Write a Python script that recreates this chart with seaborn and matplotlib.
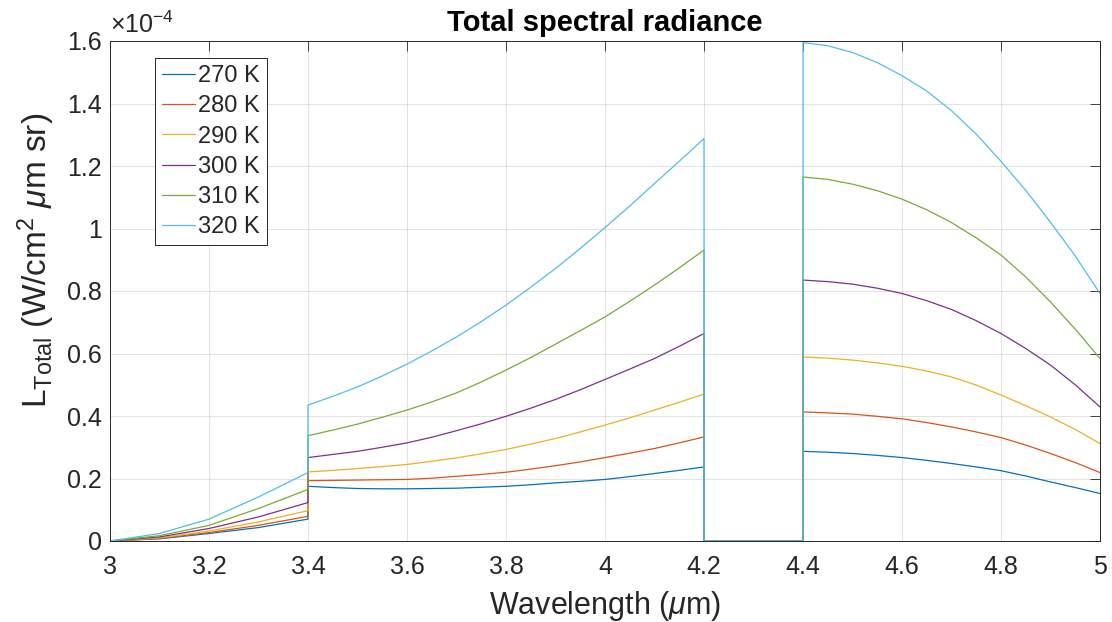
import numpy as np
import pandas as pd
import matplotlib
matplotlib.use("Agg")
import matplotlib.pyplot as plt
from matplotlib.ticker import FormatStrFormatter
import seaborn as sns

# ---------------- data (radiance in units of 1e-4 W/cm^2 um sr) ----------------
temperatures = ["270 K", "280 K", "290 K", "300 K", "310 K", "320 K"]

wavelength = [3.0, 3.1, 3.2, 3.3, 3.4,
              3.4, 3.45, 3.5, 3.55, 3.6, 3.65, 3.7, 3.75, 3.8, 3.85, 3.9,
              3.95, 4.0, 4.05, 4.1, 4.15, 4.2,
              4.2, 4.4,
              4.4, 4.45, 4.5, 4.55, 4.6, 4.65, 4.7, 4.75, 4.8, 4.85, 4.9,
              4.95, 5.0]

L_270 = [0, 0.007, 0.024, 0.043, 0.070,
         0.175, 0.171, 0.168, 0.167, 0.167, 0.168, 0.169, 0.172, 0.175,
         0.180, 0.186, 0.191, 0.197, 0.206, 0.216, 0.226, 0.237,
         0, 0,
         0.287, 0.284, 0.280, 0.274, 0.267, 0.258, 0.248, 0.237, 0.225,
         0.208, 0.189, 0.171, 0.152]
L_280 = [0, 0.008, 0.027, 0.050, 0.079,
         0.193, 0.194, 0.195, 0.196, 0.197, 0.201, 0.207, 0.213, 0.220,
         0.230, 0.241, 0.253, 0.267, 0.281, 0.296, 0.314, 0.333,
         0, 0,
         0.413, 0.410, 0.406, 0.399, 0.391, 0.379, 0.365, 0.349, 0.331,
         0.307, 0.280, 0.251, 0.219]
L_290 = [0, 0.010, 0.032, 0.061, 0.097,
         0.221, 0.226, 0.232, 0.238, 0.245, 0.255, 0.266, 0.279, 0.293,
         0.310, 0.328, 0.349, 0.371, 0.394, 0.419, 0.444, 0.470,
         0, 0,
         0.589, 0.585, 0.579, 0.570, 0.559, 0.544, 0.525, 0.499, 0.467,
         0.433, 0.397, 0.357, 0.312]
L_300 = [0, 0.013, 0.040, 0.077, 0.123,
         0.267, 0.277, 0.287, 0.300, 0.314, 0.332, 0.353, 0.375, 0.399,
         0.425, 0.453, 0.484, 0.517, 0.550, 0.584, 0.623, 0.664,
         0, 0,
         0.835, 0.830, 0.822, 0.809, 0.792, 0.769, 0.741, 0.705, 0.664,
         0.616, 0.563, 0.500, 0.429]
L_310 = [0, 0.017, 0.050, 0.104, 0.165,
         0.337, 0.355, 0.374, 0.396, 0.419, 0.445, 0.474, 0.509, 0.547,
         0.587, 0.630, 0.673, 0.717, 0.767, 0.819, 0.874, 0.931,
         0, 0,
         1.165, 1.157, 1.142, 1.121, 1.094, 1.060, 1.019, 0.970, 0.915,
         0.845, 0.765, 0.678, 0.584]
L_320 = [0, 0.024, 0.070, 0.141, 0.219,
         0.435, 0.463, 0.493, 0.528, 0.566, 0.608, 0.653, 0.702, 0.755,
         0.812, 0.872, 0.936, 1.003, 1.072, 1.144, 1.215, 1.288,
         0, 0,
         1.595, 1.585, 1.563, 1.531, 1.489, 1.440, 1.377, 1.302, 1.215,
         1.122, 1.020, 0.912, 0.792]

series = [L_270, L_280, L_290, L_300, L_310, L_320]

x_ticks = [3.0, 3.2, 3.4, 3.6, 3.8, 4.0, 4.2, 4.4, 4.6, 4.8, 5.0]
y_ticks = [0, 0.2, 0.4, 0.6, 0.8, 1.0, 1.2, 1.4, 1.6]

colors = [(0.0, 0.447, 0.741), (0.850, 0.325, 0.098), (0.929, 0.694, 0.125),
          (0.494, 0.184, 0.556), (0.466, 0.674, 0.188), (0.301, 0.745, 0.933)]

# ---------------- build long table ----------------
rows = []
for t, vals in zip(temperatures, series):
    for i, (w, v) in enumerate(zip(wavelength, vals)):
        rows.append({"order": i, "wl": w, "L": v, "T": t})
df = pd.DataFrame(rows)

# ---------------- style ----------------
sns.set_theme(style="white")
plt.rcParams["font.family"] = ["Liberation Sans", "DejaVu Sans"]
plt.rcParams["mathtext.fontset"] = "custom"
plt.rcParams["mathtext.rm"] = "Liberation Sans"
plt.rcParams["mathtext.it"] = "Liberation Sans:italic"
plt.rcParams["mathtext.bf"] = "Liberation Sans:bold"

axcol = "#262626"

fig = plt.figure(figsize=(11.12, 6.22), dpi=100)
ax = fig.add_axes([110 / 1112, 81 / 622, 990 / 1112, 500 / 622])

sns.lineplot(data=df, x="wl", y="L", hue="T", hue_order=temperatures,
             palette=colors, estimator=None, sort=False, legend=False,
             linewidth=0.9, ax=ax)

ax.set_xlim(3, 5)
ax.set_ylim(0, 1.6)
ax.set_xticks(x_ticks)
ax.set_yticks(y_ticks)
ax.xaxis.set_major_formatter(FormatStrFormatter("%g"))
ax.yaxis.set_major_formatter(FormatStrFormatter("%g"))

ax.tick_params(direction="in", length=7, width=0.6, top=True, right=True,
               labelsize=18, colors=axcol, labelcolor=axcol)
ax.tick_params(axis="x", pad=10)
ax.tick_params(axis="y", pad=6)
for s in ax.spines.values():
    s.set_visible(True)
    s.set_color(axcol)
    s.set_linewidth(0.7)

ax.grid(True, color=axcol, alpha=0.15, linewidth=0.6)
ax.set_axisbelow(True)

ax.set_xlabel("Wavelength ($\\mu$m)", fontsize=22, color=axcol, labelpad=7)
ax.set_ylabel("L$_{\\mathrm{Total}}$ (W/cm$^2$ $\\mu$m sr)", fontsize=24,
              color=axcol)
ax.yaxis.set_label_coords(-0.054, 0.562)
ax.set_title("Total spectral radiance", fontsize=21, fontweight="bold",
             color="black", pad=7)

ax.text(0.0, 1.016, "\u00d710$^{-4}$", transform=ax.transAxes, fontsize=18,
        ha="left", va="baseline", color=axcol)

lines = ax.get_lines()[:len(temperatures)]
leg = ax.legend(lines, temperatures, loc="upper left",
                bbox_to_anchor=(0.045, 0.966), borderaxespad=0,
                fontsize=17, frameon=True, fancybox=False, framealpha=1,
                edgecolor=axcol, handlelength=1.4, handletextpad=0.15,
                labelspacing=0.35, borderpad=0.3)
leg.get_frame().set_linewidth(0.7)

fig.savefig("out.png", dpi=100, facecolor="white")
